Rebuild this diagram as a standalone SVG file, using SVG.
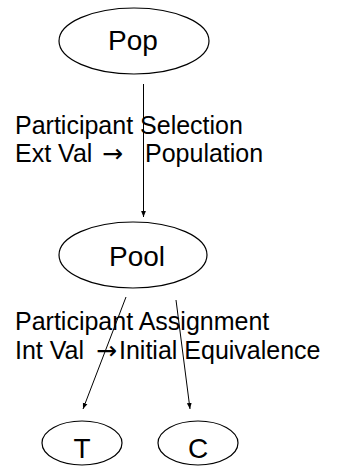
<svg xmlns="http://www.w3.org/2000/svg" width="337" height="466" viewBox="0 0 337 466">
<style>
.node{fill:#fff;stroke:#000;stroke-width:1.2}
.nt{font-family:"Liberation Sans",Arial,sans-serif;font-size:28px;fill:#000;text-anchor:middle}
.lb{font-family:"Liberation Sans",Arial,sans-serif;font-size:25px;fill:#000}
.ar{font-family:"DejaVu Sans",sans-serif;font-size:25px}
.edge{stroke:#000;stroke-width:1;fill:none;marker-end:url(#ah)}
</style>
<defs>
<marker id="ah" viewBox="0 0 10 10" refX="10" refY="5" markerWidth="6" markerHeight="6" markerUnits="userSpaceOnUse" orient="auto">
<path d="M0,1 L10,5 L0,9 Z" fill="#000"/>
</marker>
</defs>
<rect width="337" height="466" fill="#fff"/>
<g id="labels">
<text class="lb" x="15" y="134">Participant Selection</text>
<text class="lb" x="15" y="162">Ext Val <tspan class="ar" x="102">→</tspan><tspan x="145">Population</tspan></text>
<text class="lb" x="15" y="330">Participant Assignment</text>
<text class="lb" x="15" y="359">Int Val<tspan class="ar" x="96">→</tspan><tspan x="119">Initial Equivalence</tspan></text>
</g>
<g id="connectors">
<line class="edge" x1="143.5" y1="84" x2="143.5" y2="217"/>
<line class="edge" x1="126" y1="297" x2="83" y2="409"/>
<line class="edge" x1="176" y1="300" x2="190" y2="409"/>
</g>
<g id="pop">
<ellipse class="node" cx="134" cy="41" rx="75" ry="33"/>
<text class="nt" x="133" y="50">Pop</text>
</g>
<g id="pool">
<ellipse class="node" cx="133" cy="255" rx="74" ry="33"/>
<text class="nt" x="137" y="266">Pool</text>
</g>
<g id="t">
<ellipse class="node" cx="82" cy="443" rx="40" ry="22"/>
<text class="nt" x="82" y="458">T</text>
</g>
<g id="c">
<ellipse class="node" cx="198" cy="443" rx="40" ry="22"/>
<text class="nt" x="198" y="458">C</text>
</g>
</svg>
